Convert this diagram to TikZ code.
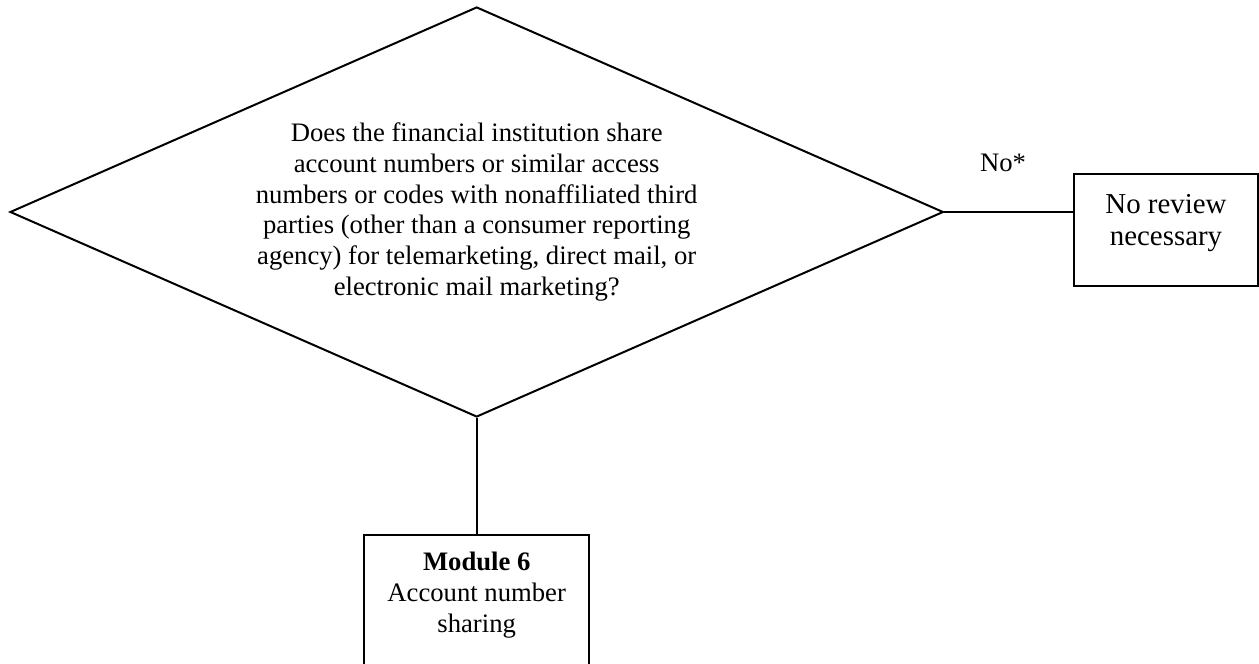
\documentclass[tikz,border=0pt]{standalone}
\usepackage{fontspec}
\setmainfont{Liberation Serif}
\usetikzlibrary{shapes.geometric}
\tikzset{
  line/.style={draw=black, line width=0.9pt},
  decision/.style={diamond, line, inner sep=0pt, shape aspect=2.276,
    minimum width=420pt, minimum height=184.5pt, align=center,
    font=\fontsize{12pt}{13.8pt}\selectfont},
  endbox/.style={rectangle, line, inner sep=0pt, align=center,
    minimum width=82.8pt, minimum height=50.4pt, text depth=9pt,
    font=\fontsize{13pt}{14.3pt}\selectfont},
  modbox/.style={rectangle, line, inner sep=0pt,
    minimum width=101.25pt, minimum height=90pt},
  modtext/.style={align=center, inner sep=0pt,
    font=\fontsize{12pt}{13.8pt}\selectfont},
  lbl/.style={inner sep=0pt, font=\fontsize{12pt}{13.8pt}\selectfont}
}
\begin{document}
\begin{tikzpicture}[x=0.45pt, y=-0.45pt]
\useasboundingbox (0,0) rectangle (1259,664);
\clip (0,0) rectangle (1259,664);
\fill[white] (0,0) rectangle (1259,664);
\node[decision] (d) at (476.7,212) {Does the financial institution share\\account numbers or similar access\\numbers or codes with nonaffiliated third\\parties (other than a consumer reporting\\agency) for telemarketing, direct mail, or\\electronic mail marketing?};
\node[endbox] (nr) at (1166,230) {No review\\necessary};
\node[modbox, anchor=north] (m) at (476.7,534) {};
\node[modtext, anchor=north] (mt) at (476.7,552) {\textbf{Module 6}\\Account number\\sharing};
\node[lbl] (no) at (1003,163) {No*};
\draw[line] (d.east) -- (d.east -| nr.west);
\draw[line] (d.south) -- (d.south |- m.north);
\end{tikzpicture}
\end{document}
